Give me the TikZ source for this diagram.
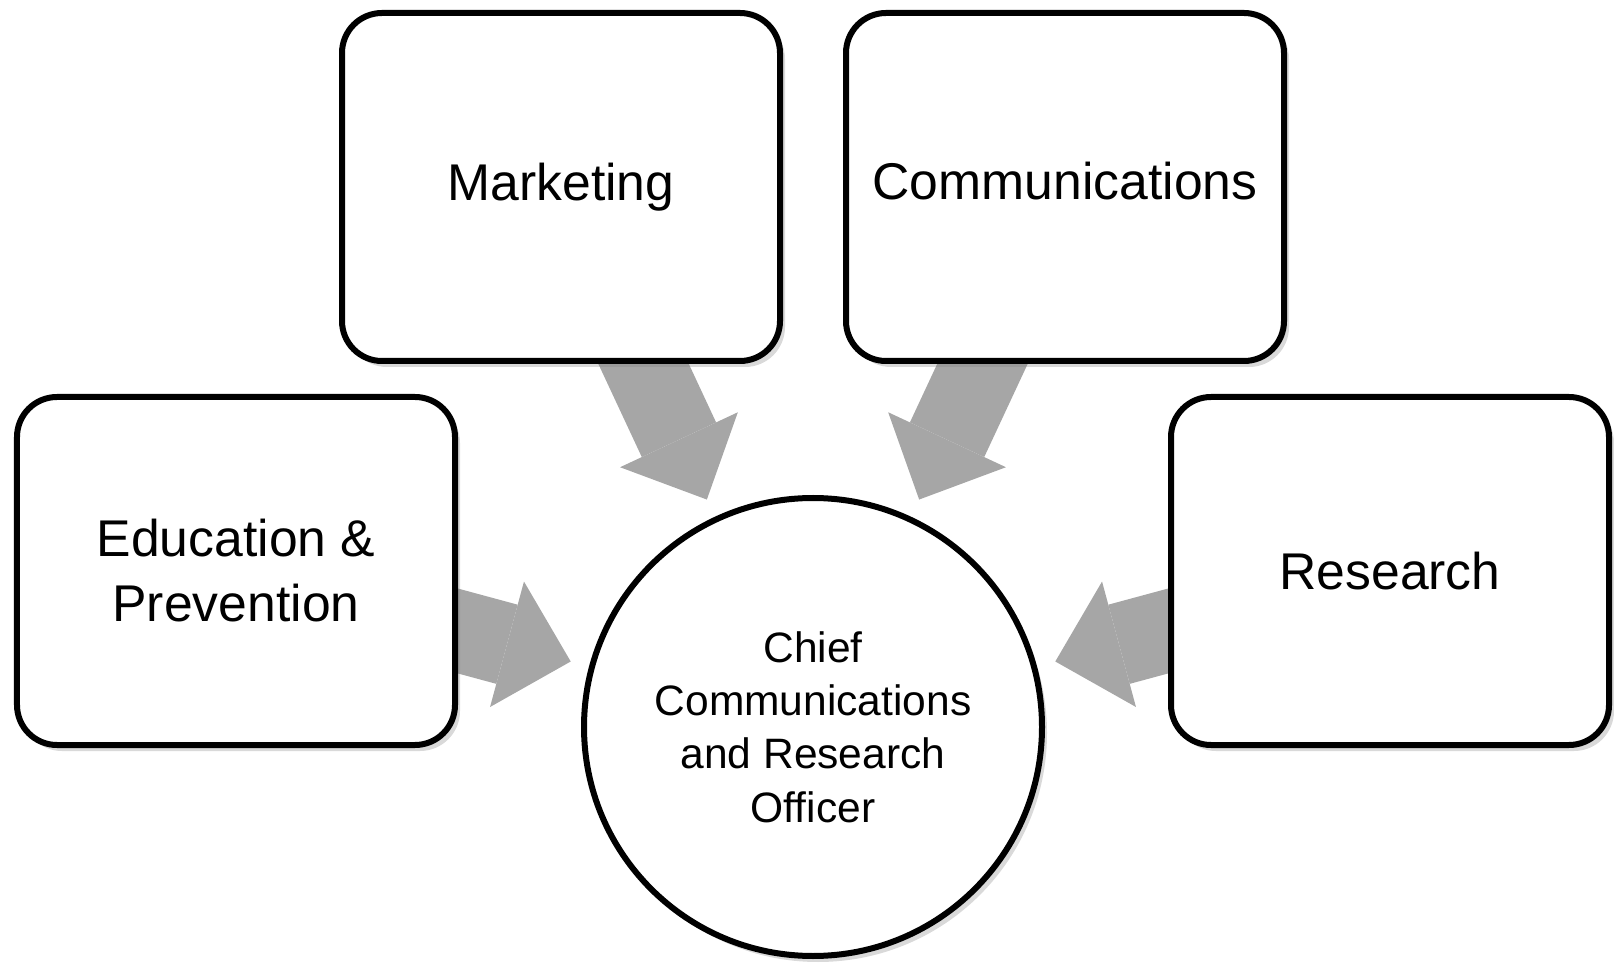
\documentclass[tikz,border=0pt]{standalone}
\usepackage{fontspec}
\setmainfont{Liberation Sans}
\usetikzlibrary{positioning,shadows,arrows.meta,backgrounds}
\definecolor{arrowgray}{RGB}{166,166,166}

\begin{document}
\begin{tikzpicture}[on grid,
    box node/.style={draw,line width=0.6mm,rounded corners=4mm,fill=white,minimum width=4.38cm,minimum height=3.48cm,align=center,font=\fontsize{14.7}{18.5}\selectfont,drop shadow={shadow xshift=0.5mm,shadow yshift=-0.6mm,opacity=0.3}},
    hub node/.style={circle,draw,line width=0.6mm,fill=white,minimum size=4.58cm,align=center,font=\fontsize{12.1}{15.2}\selectfont,drop shadow={shadow xshift=0.5mm,shadow yshift=-0.6mm,opacity=0.3}},
    flow/.style={color=arrowgray,line width=8.2mm,-{Triangle[width=13mm,length=6.6mm,line width=0pt]},shorten >=1.9mm}]
    \useasboundingbox (0,0) rectangle (16.14,9.64);

    \node[hub node] (1) at (8.13,2.37) {Chief\\Communications\\and Research\\Officer};

    \node[box node] (2) [above left=5.4cm and 2.52cm of 1] {Marketing};
    \node[box node] (3) [above right=5.4cm and 2.52cm of 1] {Communications\strut};
    \node[box node] (4) [above left=1.56cm and 5.77cm of 1] {Education \&\\Prevention};
    \node[box node] (5) [above right=1.56cm and 5.77cm of 1] {Research};

    \begin{scope}[on background layer]
        \path[flow]
            (2.center) edge (1)
            (3.center) edge (1)
            (4.center) edge (1)
            (5.center) edge (1)
            ;
    \end{scope}
\end{tikzpicture}
\end{document}
